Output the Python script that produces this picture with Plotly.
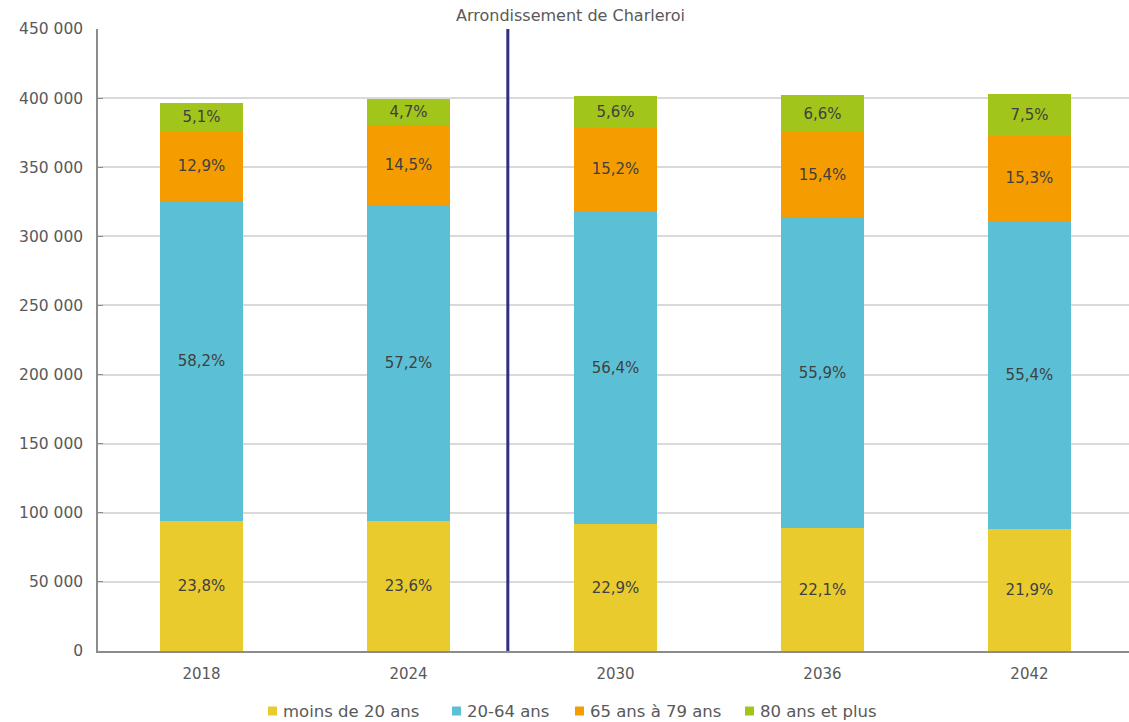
import plotly.graph_objects as go

years = ["2018", "2024", "2030", "2036", "2042"]
totals = [396300, 399300, 401000, 401900, 402800]

groups = ["moins de 20 ans", "20-64 ans", "65 ans à 79 ans", "80 ans et plus"]
pct_moins20 = [23.8, 23.6, 22.9, 22.1, 21.9]
pct_20_64 = [58.2, 57.2, 56.4, 55.9, 55.4]
pct_65_79 = [12.9, 14.5, 15.2, 15.4, 15.3]
pct_80plus = [5.1, 4.7, 5.6, 6.6, 7.5]

colors = ["#E9CB2E", "#5BC0D5", "#F59D00", "#A1C51A"]
FONT = "DejaVu Sans, sans-serif"

# plot area in pixels (used to place the hand-drawn legend)
W, H = 1129, 722
L, R, T, B = 98, 0, 29, 71
pw, ph = W - L - R, H - T - B

fig = go.Figure()
for name, pcts, col in zip(groups, [pct_moins20, pct_20_64, pct_65_79, pct_80plus], colors):
    vals = [t * p / 100 for t, p in zip(totals, pcts)]
    labels = [f"{p:.1f}%".replace(".", ",") for p in pcts]
    fig.add_bar(
        x=years, y=vals, name=name, marker=dict(color=col, line=dict(width=0)),
        text=labels, textposition="inside", insidetextanchor="middle",
        textfont=dict(color="#404040", size=15, family=FONT), width=0.4,
        hoverinfo="skip", showlegend=False,
    )

# separator between observed and projected years
fig.add_shape(type="line", xref="x", yref="paper", x0=1.48, x1=1.48, y0=0, y1=1,
              line=dict(color="#342D80", width=3))

# legend: small squares followed by labels, laid out in one row under the axis
legend_x = [268, 452, 575, 745]
legend_y = 711
annots = []
for name, col, px in zip(groups, colors, legend_x):
    x0 = (px - L) / pw
    x1 = (px + 9 - L) / pw
    y0 = (H - B - (legend_y + 4.5)) / ph
    y1 = (H - B - (legend_y - 4.5)) / ph
    fig.add_shape(type="rect", xref="paper", yref="paper", x0=x0, x1=x1, y0=y0, y1=y1,
                  fillcolor=col, line=dict(width=0))
    annots.append(dict(text=name, xref="paper", yref="paper", x=(px + 13 - L) / pw,
                       y=(H - B - legend_y) / ph, xanchor="left", yanchor="middle",
                       showarrow=False, font=dict(size=16.5, color="#595959", family=FONT)))

annots.append(dict(text="Arrondissement de Charleroi", xref="paper", yref="paper",
                   x=(570 - L) / pw, y=1, yanchor="bottom", yshift=2, showarrow=False,
                   font=dict(size=16, color="#595959", family=FONT)))

fig.update_layout(
    barmode="stack",
    width=W, height=H,
    margin=dict(l=L, r=R, t=T, b=B),
    paper_bgcolor="white", plot_bgcolor="white",
    font=dict(family=FONT, color="#595959", size=15),
    separators=", ",
    showlegend=False,
    uniformtext=dict(minsize=10, mode="show"),
    annotations=annots,
)
fig.update_xaxes(type="category", range=[-0.5, 4.481], showline=True, linecolor="#8C8C8C",
                 linewidth=1.5, ticks="", ticklabelstandoff=8,
                 tickfont=dict(size=15, color="#595959", family=FONT))
fig.update_yaxes(range=[0, 450000], dtick=50000, tickformat=",d", showgrid=True,
                 gridcolor="#D9D9D9", gridwidth=1.5, showline=True, linecolor="#8C8C8C",
                 linewidth=1.5, ticks="inside", ticklen=5, tickcolor="#8C8C8C",
                 ticklabelstandoff=10,
                 tickfont=dict(size=15.5, color="#595959", family=FONT), zeroline=False)

fig.write_html("out.html")
